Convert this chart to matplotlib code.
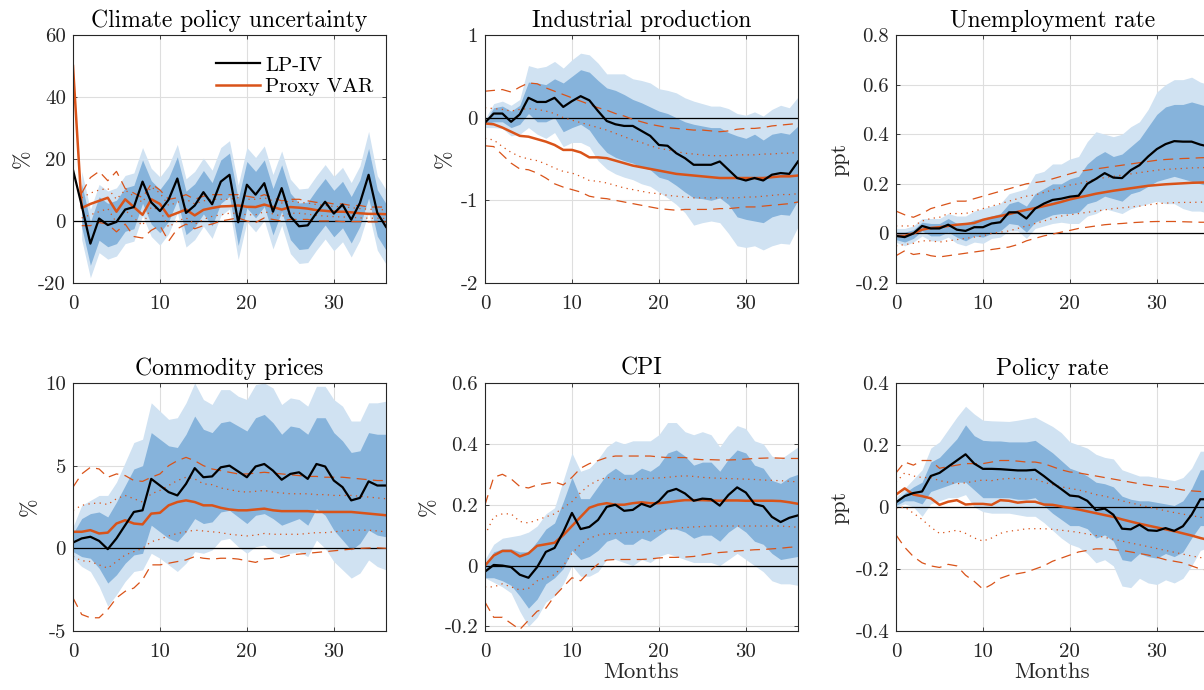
import numpy as np
import matplotlib
matplotlib.use("Agg")
import matplotlib.pyplot as plt

nan = np.nan
months = list(range(37))

titles = ["Climate policy uncertainty", "Industrial production", "Unemployment rate",
          "Commodity prices", "CPI", "Policy rate"]
ylabels = ["%", "%", "ppt", "%", "%", "ppt"]

# ---------------- Climate policy uncertainty ----------------
cpu_lp = [16.5, 5.0, -7.3, 0.8, -1.3, -0.3, 3.7, 4.5, 12.7, 6.0, 3.2, 6.9, 13.7, 2.6, 5.0, 9.3, 5.4, 12.7, 14.9, -0.4,
          11.7, 8.5, 12.2, 3.0, 10.6, 1.5, -1.7, -1.4, 2.6, 6.2, 2.4, 5.3, 0.4, 5.8, 14.9, 2.6, -1.9]
cpu_d_hi = [nan, 12.0, -0.3, 7.8, 5.7, 6.7, 10.7, 11.5, 19.7, 13.0, 10.2, 13.9, 20.7, 9.6, 12.0, 16.3, 12.4, 19.7, 21.9, 7.1,
            19.2, 16.0, 19.7, 10.5, 18.1, 9.0, 5.8, 6.1, 10.1, 13.7, 9.9, 12.8, 7.9, 13.3, 23.4, 10.1, 5.6]
cpu_d_lo = [nan, -2.0, -14.3, -6.2, -8.3, -7.3, -3.3, -2.5, 5.7, -1.0, -3.8, -0.1, 6.7, -4.4, -2.0, 2.3, -1.6, 5.7, 7.9, -7.9,
            4.2, 1.0, 4.7, -4.5, 3.1, -6.0, -9.2, -8.9, -4.9, -1.3, -5.1, -2.2, -7.1, -1.7, 7.4, -4.9, -9.4]
cpu_l_hi = [nan, 16.0, 3.7, 11.8, 9.7, 10.7, 14.7, 15.5, 23.7, 17.0, 14.2, 17.9, 24.7, 13.6, 16.0, 20.3, 16.4, 23.7, 25.9, 11.6,
            23.7, 20.5, 24.2, 15.0, 22.6, 13.5, 10.3, 10.6, 14.6, 18.2, 14.4, 17.3, 12.4, 17.8, 28.9, 14.6, 10.1]
cpu_l_lo = [nan, -6.0, -18.3, -10.2, -12.3, -11.3, -7.3, -6.5, 1.7, -5.0, -7.8, -4.1, 2.7, -8.4, -6.0, -1.7, -5.6, 1.7, 3.9, -12.4,
            -0.3, -3.5, 0.2, -9.0, -1.4, -10.5, -13.7, -13.4, -9.4, -5.8, -9.6, -6.7, -11.6, -6.2, 2.9, -9.4, -13.9]
cpu_var = [50.0, 4.2, 5.5, 6.5, 7.5, 3.0, 7.0, 4.5, 2.0, 7.0, 5.5, 1.5, 2.6, 3.7, 1.8, 3.6, 4.2, 4.7, 4.8, 5.0,
           4.6, 4.5, 5.3, 4.5, 3.7, 4.5, 4.3, 4.0, 3.5, 3.3, 3.0, 3.0, 2.8, 2.5, 2.3, 2.3, 2.2]
cpu_dash_hi = [nan, 9.0, 14.0, 16.0, 13.0, 16.0, 10.5, 9.0, 7.5, 12.0, 10.0, 7.0, 7.5, 8.5, 7.0, 8.0, 8.5, 8.5, 8.5, 8.5,
               8.0, 7.5, 8.5, 7.5, 6.5, 7.0, 7.0, 6.5, 6.0, 6.0, 5.5, 5.5, 5.0, 5.0, 4.5, 4.5, 4.5]
cpu_dash_lo = [nan, -1.5, -1.5, -0.5, -1.0, -3.5, -1.0, -5.0, -5.5, -3.0, -1.5, -6.5, -2.5, -1.0, -2.5, -1.5, -1.0, 0.0, 0.5, 1.0,
               0.0, -0.5, 1.0, 0.5, 0.0, 0.5, 0.5, 0.5, 0.0, 0.0, 0.0, -0.2, -0.2, -0.2, -0.3, -0.3, -0.3]
cpu_dot_hi = [nan, 7.5, 9.0, 10.0, 10.5, 7.0, 10.0, 8.0, 6.0, 11.0, 9.0, 5.0, 6.0, 7.0, 5.5, 6.5, 7.0, 7.0, 7.0, 7.5,
              7.0, 7.0, 7.5, 6.5, 5.8, 6.5, 6.0, 5.8, 5.3, 5.0, 4.7, 4.6, 4.3, 4.0, 3.8, 3.7, 3.6]
cpu_dot_lo = [nan, 1.0, 2.0, 3.0, 4.0, -0.5, 3.5, 1.0, -1.5, 4.5, 3.5, -2.0, 0.0, 1.0, -1.0, 0.5, 1.5, 2.0, 2.5, 2.5,
              2.0, 2.0, 3.0, 2.3, 1.5, 2.5, 2.5, 2.2, 1.8, 1.6, 1.4, 1.3, 1.2, 1.0, 0.9, 0.9, 0.8]

# ---------------- Industrial production ----------------
ip_lp = [-0.06, 0.05, 0.05, -0.05, 0.04, 0.24, 0.19, 0.19, 0.24, 0.13, 0.20, 0.26, 0.21, 0.08, -0.04, -0.08, -0.10, -0.10, -0.16, -0.22,
         -0.33, -0.34, -0.43, -0.49, -0.57, -0.57, -0.57, -0.53, -0.63, -0.73, -0.76, -0.73, -0.76, -0.69, -0.67, -0.68, -0.53]
ip_d_hi = [-0.05, 0.12, 0.14, 0.08, 0.15, 0.43, 0.42, 0.40, 0.47, 0.42, 0.50, 0.58, 0.55, 0.45, 0.36, 0.33, 0.28, 0.22, 0.18, 0.13,
           0.08, 0.05, 0.00, -0.05, -0.08, -0.10, -0.12, -0.12, -0.18, -0.22, -0.25, -0.20, -0.27, -0.20, -0.18, -0.20, -0.10]
ip_d_lo = [-0.08, -0.05, -0.05, -0.12, -0.08, 0.05, -0.05, -0.05, 0.00, -0.17, -0.12, -0.08, -0.15, -0.30, -0.42, -0.48, -0.52, -0.55, -0.60, -0.63,
           -0.72, -0.75, -0.82, -0.90, -0.97, -0.98, -1.00, -0.97, -1.05, -1.20, -1.23, -1.25, -1.27, -1.20, -1.17, -1.18, -1.00]
ip_l_hi = [-0.02, 0.17, 0.20, 0.15, 0.22, 0.63, 0.60, 0.62, 0.68, 0.60, 0.70, 0.78, 0.76, 0.66, 0.53, 0.53, 0.53, 0.47, 0.45, 0.42,
           0.35, 0.33, 0.30, 0.24, 0.20, 0.17, 0.14, 0.14, 0.11, 0.05, 0.03, 0.07, 0.02, 0.10, 0.15, 0.12, 0.25]
ip_l_lo = [-0.12, -0.12, -0.13, -0.22, -0.20, -0.12, -0.20, -0.25, -0.18, -0.35, -0.30, -0.30, -0.35, -0.52, -0.62, -0.68, -0.72, -0.75, -0.80, -0.83,
           -0.90, -0.97, -1.05, -1.15, -1.30, -1.27, -1.25, -1.27, -1.40, -1.55, -1.57, -1.55, -1.60, -1.55, -1.52, -1.53, -1.32]
ip_var = [-0.07, -0.08, -0.12, -0.17, -0.22, -0.23, -0.26, -0.29, -0.33, -0.39, -0.39, -0.42, -0.48, -0.48, -0.49, -0.52, -0.55, -0.58, -0.60, -0.62,
          -0.64, -0.66, -0.68, -0.69, -0.70, -0.71, -0.72, -0.73, -0.73, -0.73, -0.73, -0.73, -0.73, -0.72, -0.71, -0.71, -0.70]
ip_dash_hi = [0.32, 0.33, 0.34, 0.31, 0.37, 0.42, 0.41, 0.36, 0.32, 0.28, 0.24, 0.20, 0.16, 0.12, 0.09, 0.05, 0.02, -0.02, -0.05, -0.08,
              -0.10, -0.12, -0.13, -0.14, -0.15, -0.15, -0.16, -0.17, -0.16, -0.14, -0.13, -0.13, -0.12, -0.10, -0.09, -0.08, -0.07]
ip_dash_lo = [-0.34, -0.35, -0.45, -0.55, -0.62, -0.63, -0.67, -0.73, -0.80, -0.84, -0.87, -0.90, -0.95, -0.97, -0.98, -1.00, -1.02, -1.04, -1.06, -1.08,
              -1.10, -1.11, -1.12, -1.11, -1.11, -1.11, -1.11, -1.10, -1.10, -1.09, -1.08, -1.08, -1.07, -1.06, -1.05, -1.04, -1.02]
ip_dot_hi = [0.12, 0.11, 0.10, 0.08, 0.10, 0.11, 0.10, 0.08, 0.05, 0.00, -0.03, -0.06, -0.09, -0.12, -0.15, -0.19, -0.23, -0.27, -0.30, -0.34,
             -0.37, -0.39, -0.41, -0.43, -0.44, -0.45, -0.46, -0.46, -0.46, -0.45, -0.45, -0.45, -0.44, -0.44, -0.43, -0.43, -0.42]
ip_dot_lo = [-0.25, -0.27, -0.35, -0.42, -0.47, -0.50, -0.52, -0.56, -0.61, -0.65, -0.67, -0.71, -0.76, -0.77, -0.79, -0.82, -0.85, -0.87, -0.89, -0.91,
             -0.92, -0.94, -0.95, -0.96, -0.97, -0.97, -0.97, -0.97, -0.97, -0.97, -0.96, -0.96, -0.95, -0.94, -0.93, -0.93, -0.92]

# ---------------- Unemployment rate ----------------
ur_lp = [-0.010, -0.015, 0.000, 0.030, 0.020, 0.020, 0.035, 0.015, 0.010, 0.025, 0.025, 0.040, 0.045, 0.085, 0.085, 0.060, 0.100, 0.120, 0.135, 0.140,
         0.148, 0.152, 0.200, 0.220, 0.243, 0.225, 0.223, 0.255, 0.275, 0.310, 0.340, 0.360, 0.372, 0.370, 0.370, 0.358, 0.350]
ur_d_hi = [0.005, 0.005, 0.015, 0.045, 0.040, 0.040, 0.060, 0.040, 0.040, 0.055, 0.060, 0.070, 0.080, 0.120, 0.130, 0.110, 0.160, 0.180, 0.200, 0.200,
           0.220, 0.230, 0.280, 0.310, 0.330, 0.310, 0.320, 0.350, 0.380, 0.430, 0.480, 0.510, 0.520, 0.520, 0.530, 0.520, 0.510]
ur_d_lo = [-0.025, -0.035, -0.020, 0.010, -0.010, -0.010, 0.005, -0.015, -0.030, -0.010, -0.015, 0.000, 0.010, 0.040, 0.035, 0.005, 0.045, 0.060, 0.075, 0.080,
           0.080, 0.085, 0.120, 0.130, 0.150, 0.140, 0.130, 0.160, 0.170, 0.190, 0.210, 0.220, 0.230, 0.220, 0.210, 0.200, 0.190]
ur_l_hi = [0.020, 0.020, 0.030, 0.060, 0.060, 0.060, 0.080, 0.070, 0.070, 0.090, 0.100, 0.110, 0.120, 0.160, 0.170, 0.180, 0.240, 0.250, 0.280, 0.280,
           0.300, 0.310, 0.370, 0.410, 0.400, 0.390, 0.400, 0.430, 0.450, 0.500, 0.570, 0.600, 0.620, 0.620, 0.630, 0.610, 0.600]
ur_l_lo = [-0.035, -0.050, -0.035, -0.010, -0.030, -0.030, -0.015, -0.040, -0.050, -0.035, -0.040, -0.020, -0.015, 0.010, 0.010, -0.020, 0.020, 0.030, 0.040, 0.045,
           0.040, 0.040, 0.070, 0.080, 0.100, 0.090, 0.080, 0.100, 0.110, 0.120, 0.130, 0.120, 0.120, 0.100, 0.090, 0.090, 0.080]
ur_var = [-0.010, -0.010, 0.000, 0.015, 0.022, 0.025, 0.030, 0.035, 0.038, 0.042, 0.055, 0.063, 0.070, 0.078, 0.087, 0.095, 0.102, 0.110, 0.118, 0.127,
          0.137, 0.145, 0.152, 0.160, 0.166, 0.172, 0.177, 0.182, 0.187, 0.192, 0.195, 0.198, 0.200, 0.202, 0.204, 0.205, 0.206]
ur_dash_hi = [0.090, 0.075, 0.065, 0.080, 0.100, 0.110, 0.120, 0.130, 0.130, 0.140, 0.150, 0.160, 0.170, 0.180, 0.190, 0.200, 0.205, 0.210, 0.220, 0.230,
              0.240, 0.250, 0.255, 0.260, 0.265, 0.270, 0.275, 0.280, 0.285, 0.290, 0.295, 0.298, 0.300, 0.302, 0.303, 0.305, 0.306]
ur_dash_lo = [-0.090, -0.070, -0.085, -0.080, -0.090, -0.095, -0.090, -0.085, -0.080, -0.075, -0.070, -0.065, -0.060, -0.055, -0.045, -0.030, -0.020, -0.010, -0.003, 0.005,
              0.012, 0.020, 0.025, 0.030, 0.035, 0.038, 0.040, 0.043, 0.045, 0.047, 0.048, 0.048, 0.048, 0.047, 0.046, 0.045, 0.045]
ur_dot_hi = [0.030, 0.030, 0.030, 0.050, 0.060, 0.065, 0.080, 0.080, 0.080, 0.090, 0.100, 0.110, 0.120, 0.130, 0.140, 0.150, 0.155, 0.165, 0.175, 0.185,
             0.195, 0.200, 0.210, 0.220, 0.225, 0.230, 0.235, 0.240, 0.245, 0.250, 0.255, 0.258, 0.260, 0.262, 0.264, 0.265, 0.266]
ur_dot_lo = [-0.050, -0.045, -0.040, -0.030, -0.030, -0.035, -0.030, -0.025, -0.020, -0.015, -0.010, 0.000, 0.005, 0.010, 0.020, 0.030, 0.040, 0.050, 0.060, 0.070,
             0.075, 0.080, 0.085, 0.090, 0.095, 0.100, 0.103, 0.107, 0.110, 0.115, 0.120, 0.122, 0.124, 0.125, 0.125, 0.126, 0.127]

# ---------------- Commodity prices ----------------
com_lp = [0.35, 0.60, 0.70, 0.45, -0.05, 0.60, 1.40, 2.20, 2.30, 4.20, 3.80, 3.40, 3.20, 3.90, 4.85, 4.30, 4.35, 4.90, 5.00, 4.65,
          4.30, 4.95, 5.10, 4.70, 4.15, 4.50, 4.60, 4.20, 5.10, 4.95, 4.10, 3.70, 2.90, 3.05, 4.05, 3.80, 3.80]
com_d_hi = [0.9, 1.8, 2.1, 2.2, 1.9, 2.8, 3.8, 4.8, 5.0, 7.0, 6.6, 6.2, 6.1, 6.9, 8.0, 7.2, 7.0, 7.6, 7.7, 7.4,
            7.1, 7.9, 8.1, 7.6, 6.9, 7.4, 7.3, 6.9, 7.9, 7.9, 7.0, 6.5, 5.8, 5.9, 7.0, 6.9, 6.9]
com_d_lo = [-0.2, -0.5, -0.6, -1.2, -2.1, -1.6, -0.9, -0.4, -0.3, 1.4, 1.0, 0.6, 0.4, 1.0, 1.8, 1.5, 1.6, 2.2, 2.3, 1.9,
            1.5, 2.0, 2.1, 1.8, 1.4, 1.6, 1.8, 1.4, 2.4, 2.0, 1.1, 0.5, -0.1, 0.3, 1.1, 0.8, 0.7]
com_l_hi = [1.3, 2.6, 2.9, 3.2, 3.2, 4.0, 5.2, 6.4, 6.6, 8.8, 8.3, 7.8, 7.9, 8.8, 10.0, 9.0, 8.7, 9.6, 9.6, 9.2,
            9.0, 9.9, 10.0, 9.7, 8.7, 9.1, 9.0, 8.6, 9.8, 9.8, 9.0, 8.6, 7.7, 7.7, 8.8, 8.8, 8.9]
com_l_lo = [-0.6, -1.1, -1.4, -2.3, -3.5, -2.8, -2.0, -1.4, -1.3, -0.3, -0.6, -1.0, -1.4, -0.9, -0.2, -0.3, -0.1, 0.5, 0.6, 0.1,
            -0.3, 0.1, 0.2, -0.2, -0.4, -0.3, -0.2, -0.5, 0.5, 0.0, -0.8, -1.3, -1.8, -1.5, -0.7, -1.1, -1.3]
com_var = [1.0, 1.0, 1.1, 0.9, 0.95, 1.5, 1.7, 1.5, 1.45, 2.1, 2.15, 2.6, 2.8, 2.9, 2.8, 2.6, 2.6, 2.45, 2.35, 2.3,
           2.3, 2.35, 2.4, 2.3, 2.25, 2.25, 2.25, 2.25, 2.2, 2.2, 2.2, 2.2, 2.2, 2.15, 2.1, 2.05, 2.0]
com_dash_hi = [3.7, 4.5, 4.9, 4.8, 4.3, 4.5, 4.4, 4.1, 4.05, 4.3, 4.5, 5.0, 5.3, 5.5, 5.3, 5.0, 4.8, 4.7, 4.6, 4.5,
               4.5, 4.55, 4.6, 4.55, 4.5, 4.45, 4.4, 4.35, 4.35, 4.3, 4.3, 4.3, 4.25, 4.2, 4.15, 4.1, 4.1]
com_dash_lo = [-3.0, -4.0, -4.2, -4.2, -3.7, -3.0, -2.6, -2.4, -1.9, -1.0, -1.0, -0.9, -0.8, -0.7, -0.5, -0.6, -0.65, -0.6, -0.6, -0.65,
               -0.75, -0.85, -0.65, -0.6, -0.55, -0.4, -0.35, -0.3, -0.25, -0.2, -0.15, -0.1, -0.05, 0.0, 0.02, 0.03, 0.0]
com_dot_hi = [2.3, 2.6, 2.7, 2.75, 2.65, 3.0, 3.2, 3.0, 2.8, 3.3, 3.5, 3.8, 4.1, 4.3, 4.2, 3.9, 3.85, 3.65, 3.55, 3.45,
              3.4, 3.45, 3.5, 3.4, 3.35, 3.3, 3.3, 3.3, 3.25, 3.25, 3.2, 3.2, 3.2, 3.15, 3.1, 3.05, 3.0]
com_dot_lo = [-0.5, -0.75, -0.8, -1.0, -1.2, -0.8, -0.4, -0.2, 0.0, 0.4, 0.55, 0.75, 0.9, 1.0, 1.1, 1.05, 1.0, 0.95, 0.85, 0.8,
              0.75, 0.8, 0.9, 0.85, 0.85, 0.85, 0.85, 0.9, 0.95, 0.95, 1.0, 1.05, 1.1, 1.1, 1.1, 1.05, 1.0]

# ---------------- CPI ----------------
cpi_lp = [-0.020, 0.002, 0.000, -0.005, -0.030, -0.040, -0.005, 0.045, 0.058, 0.110, 0.173, 0.120, 0.127, 0.150, 0.193, 0.200, 0.180, 0.183, 0.203, 0.193,
          0.212, 0.243, 0.252, 0.237, 0.213, 0.220, 0.218, 0.197, 0.232, 0.257, 0.240, 0.202, 0.195, 0.160, 0.143, 0.157, 0.165]
cpi_d_hi = [0.000, 0.045, 0.055, 0.055, 0.045, 0.045, 0.080, 0.120, 0.140, 0.210, 0.290, 0.220, 0.220, 0.260, 0.300, 0.320, 0.300, 0.300, 0.320, 0.310,
            0.330, 0.370, 0.380, 0.360, 0.330, 0.340, 0.340, 0.310, 0.350, 0.380, 0.370, 0.330, 0.320, 0.280, 0.270, 0.290, 0.300]
cpi_d_lo = [-0.040, -0.040, -0.050, -0.065, -0.100, -0.140, -0.110, -0.060, -0.040, -0.010, 0.050, 0.020, 0.030, 0.050, 0.080, 0.090, 0.070, 0.070, 0.090, 0.080,
            0.100, 0.120, 0.120, 0.110, 0.090, 0.100, 0.100, 0.080, 0.110, 0.130, 0.110, 0.080, 0.070, 0.040, 0.020, 0.025, 0.030]
cpi_l_hi = [0.020, 0.070, 0.090, 0.095, 0.100, 0.110, 0.130, 0.170, 0.190, 0.280, 0.370, 0.310, 0.320, 0.350, 0.390, 0.410, 0.400, 0.410, 0.410, 0.410,
            0.430, 0.470, 0.470, 0.440, 0.430, 0.440, 0.430, 0.390, 0.430, 0.460, 0.450, 0.410, 0.400, 0.360, 0.350, 0.370, 0.390]
cpi_l_lo = [-0.040, -0.055, -0.070, -0.090, -0.150, -0.200, -0.170, -0.120, -0.100, -0.060, 0.000, -0.035, -0.035, -0.020, 0.020, 0.020, 0.010, 0.000, 0.020, 0.010,
            0.030, 0.040, 0.030, 0.020, 0.010, 0.010, 0.010, 0.000, 0.020, 0.040, 0.020, 0.000, -0.020, -0.050, -0.060, -0.060, -0.065]
cpi_var = [0.000, 0.033, 0.048, 0.048, 0.030, 0.040, 0.065, 0.070, 0.075, 0.100, 0.130, 0.160, 0.190, 0.200, 0.205, 0.200, 0.200, 0.205, 0.208, 0.205,
           0.205, 0.208, 0.212, 0.215, 0.215, 0.215, 0.214, 0.213, 0.214, 0.214, 0.213, 0.213, 0.213, 0.213, 0.212, 0.208, 0.203]
cpi_dash_hi = [0.200, 0.290, 0.300, 0.285, 0.260, 0.255, 0.265, 0.270, 0.275, 0.265, 0.290, 0.320, 0.335, 0.345, 0.355, 0.360, 0.360, 0.360, 0.360, 0.360,
               0.357, 0.355, 0.355, 0.355, 0.350, 0.348, 0.348, 0.347, 0.347, 0.348, 0.350, 0.352, 0.353, 0.354, 0.353, 0.352, 0.352]
cpi_dash_lo = [-0.120, -0.170, -0.170, -0.190, -0.210, -0.180, -0.150, -0.140, -0.100, -0.070, -0.040, -0.050, -0.020, 0.005, 0.018, 0.020, 0.020, 0.020, 0.020, 0.022,
               0.025, 0.027, 0.027, 0.028, 0.030, 0.035, 0.040, 0.043, 0.045, 0.048, 0.050, 0.052, 0.053, 0.055, 0.057, 0.060, 0.062]
cpi_dot_hi = [0.100, 0.160, 0.170, 0.170, 0.145, 0.140, 0.150, 0.160, 0.170, 0.190, 0.210, 0.240, 0.265, 0.280, 0.290, 0.285, 0.282, 0.285, 0.285, 0.287,
              0.288, 0.290, 0.293, 0.295, 0.293, 0.290, 0.288, 0.287, 0.286, 0.285, 0.284, 0.283, 0.281, 0.280, 0.279, 0.277, 0.275]
cpi_dot_lo = [-0.070, -0.070, -0.060, -0.070, -0.080, -0.075, -0.050, -0.040, -0.030, 0.000, 0.040, 0.070, 0.090, 0.100, 0.105, 0.105, 0.108, 0.110, 0.110, 0.112,
              0.115, 0.120, 0.123, 0.125, 0.127, 0.128, 0.130, 0.130, 0.130, 0.130, 0.130, 0.130, 0.130, 0.130, 0.130, 0.128, 0.126]

# ---------------- Policy rate ----------------
pr_lp = [0.015, 0.035, 0.045, 0.050, 0.100, 0.110, 0.130, 0.150, 0.170, 0.140, 0.123, 0.123, 0.122, 0.120, 0.118, 0.118, 0.120, 0.100, 0.078, 0.058,
         0.037, 0.034, 0.020, -0.010, -0.005, -0.025, -0.070, -0.072, -0.057, -0.075, -0.077, -0.068, -0.077, -0.062, -0.025, 0.025, 0.025]
pr_d_hi = [0.020, 0.045, 0.065, 0.080, 0.145, 0.160, 0.190, 0.220, 0.265, 0.230, 0.215, 0.213, 0.213, 0.210, 0.210, 0.210, 0.215, 0.195, 0.175, 0.150,
           0.125, 0.115, 0.100, 0.080, 0.075, 0.065, 0.035, 0.025, 0.020, 0.020, 0.015, 0.010, 0.005, 0.020, 0.060, 0.120, 0.120]
pr_d_lo = [0.005, 0.020, 0.020, 0.010, 0.050, 0.060, 0.070, 0.080, 0.080, 0.055, 0.030, 0.030, 0.030, 0.030, 0.025, 0.025, 0.030, 0.005, -0.020, -0.040,
           -0.060, -0.060, -0.070, -0.100, -0.090, -0.110, -0.170, -0.175, -0.150, -0.160, -0.165, -0.150, -0.160, -0.145, -0.100, -0.060, -0.060]
pr_l_hi = [0.030, 0.060, 0.090, 0.120, 0.190, 0.210, 0.250, 0.290, 0.325, 0.300, 0.280, 0.278, 0.277, 0.276, 0.280, 0.285, 0.290, 0.275, 0.260, 0.240,
           0.210, 0.200, 0.190, 0.170, 0.160, 0.155, 0.120, 0.110, 0.100, 0.100, 0.095, 0.090, 0.085, 0.095, 0.125, 0.180, 0.180]
pr_l_lo = [0.000, 0.010, 0.000, -0.030, 0.010, 0.020, 0.030, 0.030, 0.040, 0.000, -0.015, -0.020, -0.020, -0.020, -0.025, -0.030, -0.030, -0.050, -0.075, -0.100,
           -0.120, -0.130, -0.150, -0.180, -0.170, -0.190, -0.255, -0.260, -0.230, -0.245, -0.250, -0.235, -0.245, -0.230, -0.190, -0.140, -0.130]
pr_var = [0.040, 0.060, 0.040, 0.035, 0.028, 0.007, 0.017, 0.022, 0.008, 0.010, 0.010, 0.007, 0.022, 0.020, 0.014, 0.017, 0.017, 0.008, 0.007, 0.002,
          -0.003, -0.008, -0.014, -0.020, -0.026, -0.032, -0.040, -0.047, -0.054, -0.060, -0.066, -0.072, -0.078, -0.085, -0.092, -0.100, -0.107]
pr_dash_hi = [0.110, 0.145, 0.135, 0.150, 0.150, 0.125, 0.130, 0.135, 0.140, 0.140, 0.140, 0.145, 0.150, 0.150, 0.148, 0.145, 0.145, 0.140, 0.130, 0.120,
              0.113, 0.110, 0.105, 0.100, 0.095, 0.090, 0.085, 0.080, 0.075, 0.070, 0.067, 0.065, 0.060, 0.055, 0.052, 0.050, 0.050]
pr_dash_lo = [-0.090, -0.130, -0.160, -0.180, -0.190, -0.195, -0.185, -0.190, -0.220, -0.240, -0.265, -0.250, -0.230, -0.220, -0.215, -0.210, -0.200, -0.190, -0.175, -0.165,
              -0.155, -0.145, -0.140, -0.135, -0.135, -0.138, -0.140, -0.145, -0.150, -0.155, -0.162, -0.170, -0.175, -0.180, -0.190, -0.200, -0.205]
pr_dot_hi = [0.080, 0.110, 0.100, 0.095, 0.095, 0.085, 0.080, 0.075, 0.078, 0.083, 0.087, 0.085, 0.090, 0.092, 0.092, 0.090, 0.090, 0.080, 0.072, 0.065,
             0.060, 0.055, 0.048, 0.040, 0.035, 0.028, 0.020, 0.013, 0.007, 0.000, -0.006, -0.012, -0.018, -0.023, -0.028, -0.033, -0.038]
pr_dot_lo = [-0.005, 0.000, -0.020, -0.040, -0.065, -0.085, -0.080, -0.075, -0.085, -0.100, -0.110, -0.100, -0.085, -0.078, -0.075, -0.070, -0.070, -0.070, -0.072, -0.075,
             -0.078, -0.082, -0.087, -0.092, -0.098, -0.104, -0.110, -0.116, -0.122, -0.128, -0.134, -0.140, -0.146, -0.152, -0.158, -0.163, -0.168]

ylims = [(-20, 60), (-2, 1), (-0.2, 0.8), (-5, 10), (-0.215, 0.6), (-0.4, 0.4)]
yticks = [[-20, 0, 20, 40, 60], [-2, -1, 0, 1], [-0.2, 0, 0.2, 0.4, 0.6, 0.8],
          [-5, 0, 5, 10], [-0.2, 0, 0.2, 0.4, 0.6], [-0.4, -0.2, 0, 0.2, 0.4]]
ytlabels = [["-20", "0", "20", "40", "60"], ["-2", "-1", "0", "1"], ["-0.2", "0", "0.2", "0.4", "0.6", "0.8"],
            ["-5", "0", "5", "10"], ["-0.2", "0", "0.2", "0.4", "0.6"], ["-0.4", "-0.2", "0", "0.2", "0.4"]]
xticks = [0, 10, 20, 30]

panels = [
    (cpu_lp, cpu_d_lo, cpu_d_hi, cpu_l_lo, cpu_l_hi, cpu_var, cpu_dash_lo, cpu_dash_hi, cpu_dot_lo, cpu_dot_hi),
    (ip_lp, ip_d_lo, ip_d_hi, ip_l_lo, ip_l_hi, ip_var, ip_dash_lo, ip_dash_hi, ip_dot_lo, ip_dot_hi),
    (ur_lp, ur_d_lo, ur_d_hi, ur_l_lo, ur_l_hi, ur_var, ur_dash_lo, ur_dash_hi, ur_dot_lo, ur_dot_hi),
    (com_lp, com_d_lo, com_d_hi, com_l_lo, com_l_hi, com_var, com_dash_lo, com_dash_hi, com_dot_lo, com_dot_hi),
    (cpi_lp, cpi_d_lo, cpi_d_hi, cpi_l_lo, cpi_l_hi, cpi_var, cpi_dash_lo, cpi_dash_hi, cpi_dot_lo, cpi_dot_hi),
    (pr_lp, pr_d_lo, pr_d_hi, pr_l_lo, pr_l_hi, pr_var, pr_dash_lo, pr_dash_hi, pr_dot_lo, pr_dot_hi),
]

plt.rcParams.update({
    "font.family": "cmr10",
    "axes.unicode_minus": False,
    "axes.formatter.use_mathtext": False,
})

LIGHT = "#d0e2f2"
DARK = "#86b3db"
ORANGE = "#d95319"
AXC = "#262626"

W, H = 1204, 690
fig = plt.figure(figsize=(W / 100, H / 100), dpi=100)
lefts = [73, 485, 896]
tops = [35, 383]
aw, ah = 313, 248

for i, (title, data) in enumerate(zip(titles, panels)):
    r, c = divmod(i, 3)
    x0, y0 = lefts[c], tops[r]
    ax = fig.add_axes([x0 / W, 1 - (y0 + ah) / H, aw / W, ah / H])
    lp, dlo, dhi, llo, lhi, var, dashlo, dashhi, dotlo, dothi = data
    ax.fill_between(months, llo, lhi, color=LIGHT, lw=0, zorder=1)
    ax.fill_between(months, dlo, dhi, color=DARK, lw=0, zorder=2)
    ax.axhline(0, color="black", lw=0.9, zorder=3)
    ax.plot(months, dashhi, color=ORANGE, lw=0.9, ls=(0, (8, 5)), zorder=4)
    ax.plot(months, dashlo, color=ORANGE, lw=0.9, ls=(0, (8, 5)), zorder=4)
    ax.plot(months, dothi, color=ORANGE, lw=0.9, ls=(0, (1, 3.5)), zorder=4)
    ax.plot(months, dotlo, color=ORANGE, lw=0.9, ls=(0, (1, 3.5)), zorder=4)
    l1, = ax.plot(months, lp, color="black", lw=1.6, zorder=6, label="LP-IV")
    l2, = ax.plot(months, var, color=ORANGE, lw=1.8, zorder=5, label="Proxy VAR")
    ax.set_xlim(0, 36)
    ax.set_ylim(*ylims[i])
    ax.set_xticks(xticks)
    ax.set_xticklabels([str(t) for t in xticks])
    ax.set_yticks(yticks[i])
    ax.set_yticklabels(ytlabels[i])
    ax.grid(True, color="#dedede", lw=0.8, zorder=0)
    ax.set_axisbelow(True)
    for s in ax.spines.values():
        s.set_color(AXC)
        s.set_linewidth(0.8)
        s.set_zorder(10)
    ax.tick_params(direction="in", length=3, width=0.6, colors=AXC, labelsize=15,
                   top=True, right=True)
    ax.tick_params(axis="x", pad=9)
    ax.tick_params(axis="y", pad=5)
    ax.set_title(title, fontsize=17, color="black", pad=6)
    ax.set_ylabel(ylabels[i], fontsize=16, color=AXC, labelpad=4)
    if i in (4, 5):
        ax.set_xlabel("Months", fontsize=16.5, color=AXC, labelpad=1)
    if i == 0:
        ax.legend(handles=[l1, l2], loc="upper right", bbox_to_anchor=(1.0, 0.965),
                  frameon=False, fontsize=15, handlelength=2.1, handletextpad=0.25,
                  labelspacing=0.15, borderaxespad=0.2)

fig.savefig("out.png", dpi=100)
